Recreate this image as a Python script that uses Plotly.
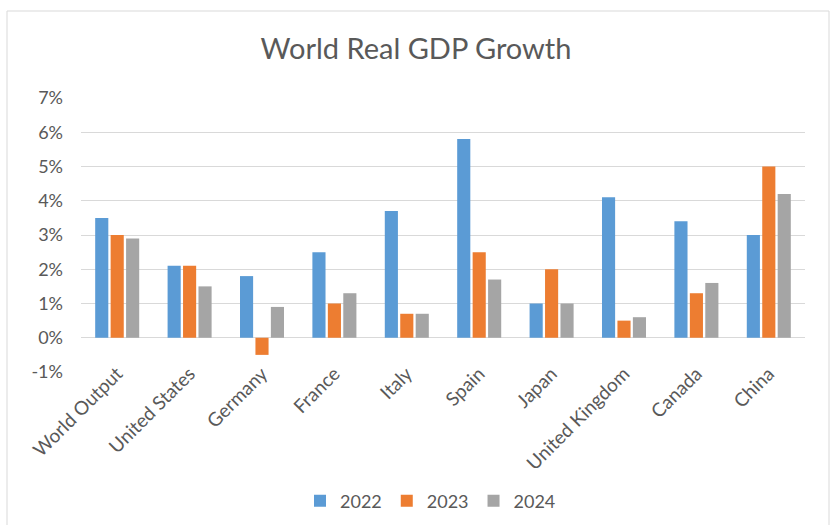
import plotly.graph_objects as go

categories = ["World Output", "United States", "Germany", "France", "Italy",
              "Spain", "Japan", "United Kingdom", "Canada", "China"]
years = ["2022", "2023", "2024"]
growth_2022 = [3.5, 2.1, 1.8, 2.5, 3.7, 5.8, 1.0, 4.1, 3.4, 3.0]
growth_2023 = [3.0, 2.1, -0.5, 1.0, 0.7, 2.5, 2.0, 0.5, 1.3, 5.0]
growth_2024 = [2.9, 1.5, 0.9, 1.3, 0.7, 1.7, 1.0, 0.6, 1.6, 4.2]
tick_vals = [-1, 0, 1, 2, 3, 4, 5, 6, 7]
tick_text = ["-1%", "0%", "1%", "2%", "3%", "4%", "5%", "6%", "7%"]

colors = ["#5B9BD5", "#ED7D31", "#A5A5A5"]
series = [growth_2022, growth_2023, growth_2024]

FONT = "Lato, Open Sans, sans-serif"
TXT = "#595959"

fig = go.Figure()
for name, vals, c in zip(years, series, colors):
    fig.add_trace(go.Bar(x=categories, y=vals, name=name,
                         marker=dict(color=c, line=dict(width=0))))

W, H = 832, 525
L, R, T, B = 81, 27, 98, 153
pw, ph = W - L - R, H - T - B

def px_x(x):
    return (x - L) / pw

def px_y(y):
    return (H - B - y) / ph

fig.update_layout(
    width=W, height=H,
    margin=dict(l=L, r=R, t=T, b=B, autoexpand=False),
    paper_bgcolor="white", plot_bgcolor="white",
    barmode="group", bargap=0.36, bargroupgap=0.15,
    font=dict(family=FONT, color=TXT, size=18),
    title=dict(text="World Real GDP Growth", x=0.5, xanchor="center",
               y=1 - 49 / H, yanchor="middle",
               font=dict(family=FONT, size=29, color=TXT)),
    showlegend=True,
    legend=dict(orientation="h", x=px_x(300), xanchor="left",
                y=-(501 - (H - B)) / ph, yanchor="middle",
                font=dict(size=18, color=TXT), itemwidth=30,
                traceorder="normal"),
    xaxis=dict(tickangle=-45, showgrid=False, showline=False, ticks="",
               automargin=False, ticklabelstandoff=-14,
               tickfont=dict(size=19, color=TXT)),
    yaxis=dict(range=[-1, 7], tickvals=tick_vals, ticktext=tick_text,
               showgrid=True, gridcolor="#D9D9D9", gridwidth=1.3,
               zeroline=True, zerolinecolor="#D9D9D9", zerolinewidth=1.3,
               showline=False, ticks="", ticklabelstandoff=17,
               automargin=False, tickfont=dict(size=18, color=TXT)),
    shapes=[dict(type="rect", xref="paper", yref="paper",
                 x0=px_x(7), x1=px_x(829), y0=px_y(540), y1=px_y(11),
                 line=dict(color="#D9D9D9", width=1), layer="below")],
)

fig.write_html("out.html", config={"displayModeBar": False},
               post_script="document.body.style.margin='0';document.body.style.overflow='hidden';")
